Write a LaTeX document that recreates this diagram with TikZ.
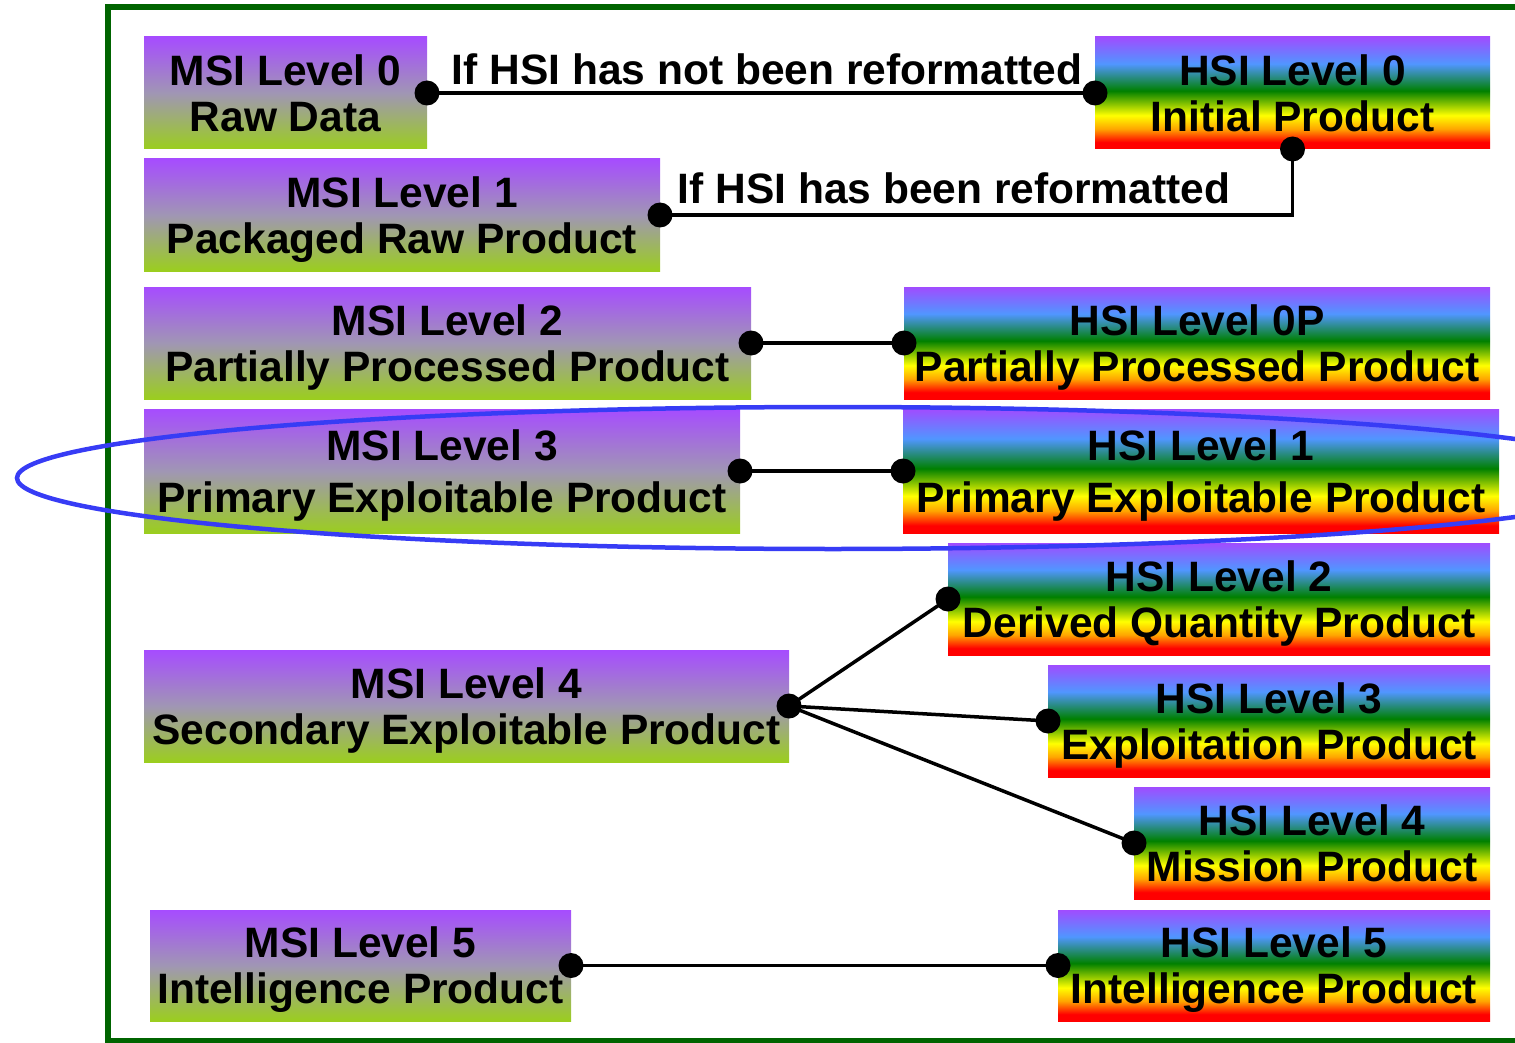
\documentclass[tikz,border=0pt]{standalone}
\usepackage{fontspec}
\setmainfont{Liberation Sans}

% rainbow stops for the HSI boxes
\definecolor{hPurple}{RGB}{160,76,255}
\definecolor{hBlue}{RGB}{80,150,255}
\definecolor{hGreen}{RGB}{0,128,0}
\definecolor{hYellow}{RGB}{255,255,0}
\definecolor{hOrange}{RGB}{255,165,0}
\definecolor{hRed}{RGB}{255,0,0}
% purple-to-green stops for the MSI boxes
\definecolor{mPurple}{RGB}{166,76,255}
\definecolor{mMid}{RGB}{160,150,180}
\definecolor{mGreen}{RGB}{155,206,30}
\definecolor{frameGreen}{RGB}{0,100,0}
\definecolor{ringBlue}{RGB}{55,60,245}

\pgfdeclareverticalshading{hsishade}{100bp}{color(0bp)=(hRed); color(28bp)=(hRed); color(34bp)=(hOrange); color(40bp)=(hYellow); color(51bp)=(hGreen); color(63bp)=(hBlue); color(75bp)=(hPurple); color(100bp)=(hPurple)}
\pgfdeclareverticalshading{msishade}{100bp}{color(0bp)=(mGreen); color(25bp)=(mGreen); color(50bp)=(mMid); color(75bp)=(mPurple); color(100bp)=(mPurple)}

\begin{document}
\begin{tikzpicture}[x=1pt,y=-1pt,
  lvlbox/.style={inner sep=0pt, outer sep=0pt, align=center, text depth=0pt,
    font=\bfseries\fontsize{42.5}{46}\selectfont},
  msi/.style={lvlbox, shade, shading=msishade},
  hsi/.style={lvlbox, shade, shading=hsishade},
  tall/.style={font=\bfseries\fontsize{42.5}{52}\selectfont},
  lbl/.style={inner sep=0pt, font=\bfseries\fontsize{42.5}{46}\selectfont},
  link/.style={line width=3.5pt},
  dotend/.style={fill=black}]
\useasboundingbox (0,0) rectangle (1515,1043);
\clip (0,0) rectangle (1515,1043);

% outer frame, running past the right edge
\draw[frameGreen, line width=6pt] (108,7) rectangle (1560,1041);

% MSI levels
\node[msi, minimum width=283pt, minimum height=112pt] (m0) at (285.5,93) {MSI Level 0\\Raw Data};
\node[msi, minimum width=516pt, minimum height=112pt] (m1) at (402,215) {MSI Level 1\\Packaged Raw Product};
\node[msi, minimum width=607pt, minimum height=112pt] (m2) at (447.5,343) {MSI Level 2\\Partially Processed Product};
\node[msi, tall, minimum width=596pt, minimum height=124pt] (m3) at (442,471) {MSI Level 3\\Primary Exploitable Product};
\node[msi, minimum width=645pt, minimum height=112pt] (m4) at (466.5,706) {MSI Level 4\\Secondary Exploitable Product};
\node[msi, minimum width=421pt, minimum height=111pt] (m5) at (360.5,965.5) {MSI Level 5\\Intelligence Product};

% HSI levels
\node[hsi, minimum width=395pt, minimum height=112pt] (h0) at (1292.5,93) {HSI Level 0\\Initial Product};
\node[hsi, minimum width=586pt, minimum height=112pt] (h0p) at (1197,343) {HSI Level 0P\\Partially Processed Product};
\node[hsi, tall, minimum width=596pt, minimum height=124pt] (h1) at (1201,471) {HSI Level 1\\Primary Exploitable Product};
\node[hsi, minimum width=542pt, minimum height=112pt] (h2) at (1219,599) {HSI Level 2\\Derived Quantity Product};
\node[hsi, minimum width=442pt, minimum height=112pt] (h3) at (1269,721) {HSI Level 3\\Exploitation Product};
\node[hsi, minimum width=356pt, minimum height=112pt] (h4) at (1312,843) {HSI Level 4\\Mission Product};
\node[hsi, minimum width=432pt, minimum height=111pt] (h5) at (1274,965.5) {HSI Level 5\\Intelligence Product};

% connector labels
\node[lbl, anchor=base] (l0) at (767,85) {If HSI has not been reformatted};
\node[lbl, anchor=base] (l1) at (954,204) {If HSI has been reformatted};

% connectors
\draw[link] (m0.east) -- (h0.west);
\draw[link] (h0.south) |- (m1.east);
\draw[link] (m2.east) -- (h0p.west);
\draw[link] (m3.east) -- (h1.west);
\draw[link] (m4.east) -- (h2.west);
\draw[link] (m4.east) -- (h3.west);
\draw[link] (m4.east) -- (h4.west);
\draw[link] (m5.east) -- (h5.west);

% end dots
\foreach \p in {m0.east,h0.west,h0.south,m1.east,m2.east,h0p.west,m3.east,h1.west,
                m4.east,h2.west,h3.west,h4.west,m5.east,h5.west}
  \fill[dotend] (\p) circle[radius=12.5pt];

% highlight ring round level 3 / level 1
\draw[ringBlue, line width=4.5pt] (833,478) ellipse[x radius=816pt, y radius=71pt];
\end{tikzpicture}
\end{document}
